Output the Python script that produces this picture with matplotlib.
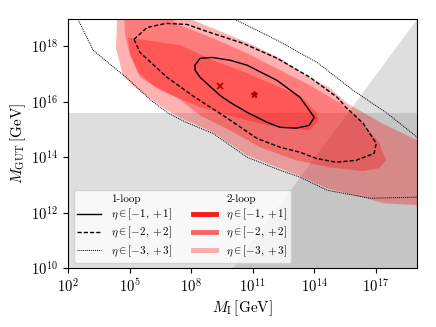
import numpy as np
import matplotlib
matplotlib.use("Agg")
import matplotlib.pyplot as plt
from matplotlib.lines import Line2D

plt.rcParams["font.family"] = "serif"
plt.rcParams["font.serif"] = ["cmr10"]
plt.rcParams["mathtext.fontset"] = "cm"
plt.rcParams["axes.formatter.use_mathtext"] = True

# contours, log10(M_I) / log10(M_GUT)
# 1-loop lines
loop1_eta1_x = [8.19, 8.44, 9.02, 9.90, 10.73, 12.19, 13.31, 14.0, 13.75, 13.12, 12.34, 11.70, 10.73, 9.90, 9.41, 8.44, 8.19, 8.19]
loop1_eta1_y = [17.32, 17.57, 17.60, 17.50, 17.32, 16.77, 16.16, 15.44, 15.15, 15.05, 15.08, 15.26, 15.62, 15.98, 16.23, 16.88, 17.14, 17.32]
loop1_eta2_x = [5.22, 5.51, 6.83, 8.19, 9.56, 11.21, 12.34, 13.31, 14.09, 15.07, 16.04, 16.92, 17.02, 16.38, 15.55, 15.12, 13.8, 12.19, 10.53, 8.92, 7.8, 6.78, 5.85, 5.22]
loop1_eta2_y = [18.25, 17.78, 16.88, 16.16, 15.51, 14.68, 14.36, 14.18, 13.96, 13.82, 13.89, 14.14, 14.50, 15.23, 15.80, 16.16, 16.88, 17.57, 18.11, 18.50, 18.79, 18.83, 18.68, 18.25]
loop1_eta3_x = [19.5, 19.0, 16.72, 14.63, 13.31, 12.34, 10.73, 9.07, 7.75, 6.88, 6.05, 4.88, 3.22, 2.49, 2.0, 7.6, 10.14, 12.19, 14.14, 15.9, 17.55, 19.02, 19.5, 19.5]
loop1_eta3_y = [12.5, 12.56, 12.52, 12.81, 13.28, 13.53, 14.0, 14.86, 15.26, 15.59, 16.05, 16.85, 17.86, 18.97, 19.8, 19.6, 18.97, 18.22, 17.42, 16.41, 15.59, 14.72, 14.3, 12.5]

# 2-loop filled regions
loop2_eta1_x = [4.93, 7.46, 9.07, 10.73, 12.34, 13.31, 14.14, 14.19, 13.80, 12.19, 10.73, 8.44, 6.83, 5.51, 5.02]
loop2_eta1_y = [18.32, 18.04, 17.50, 17.03, 16.52, 16.23, 15.59, 15.33, 14.97, 15.08, 15.33, 15.80, 16.31, 16.88, 17.75]
loop2_eta2_x = [4.73, 6.39, 7.46, 9.07, 10.73, 12.34, 13.80, 15.26, 16.24, 17.16, 17.50, 17.16, 16.38, 14.73, 13.12, 11.36, 9.90, 8.44, 7.36, 6.24, 5.41, 5.02, 4.78]
loop2_eta2_y = [19.30, 19.30, 18.76, 18.29, 17.75, 17.14, 16.59, 15.95, 15.33, 14.54, 13.89, 13.60, 13.50, 13.64, 13.89, 14.36, 14.97, 15.51, 16.13, 16.52, 17.06, 17.68, 18.40]
loop2_eta3_x = [4.44, 6.88, 8.09, 9.07, 10.73, 12.34, 13.80, 14.73, 15.60, 17.21, 19.02, 19.41, 19.41, 19.02, 17.36, 16.72, 14.63, 13.31, 12.34, 10.73, 9.07, 7.75, 6.88, 6.05, 5.27, 4.68, 4.34, 4.39]
loop2_eta3_y = [19.30, 19.30, 18.94, 18.65, 18.14, 17.57, 16.85, 16.52, 15.95, 15.26, 14.61, 14.47, 12.27, 12.27, 12.34, 12.49, 12.88, 13.32, 13.60, 14.07, 14.90, 15.33, 15.66, 16.09, 16.52, 16.95, 17.93, 18.97]

# best-fit points
bf1_loop = (9.41, 16.56)
bf2_loop = (11.07, 16.27)

# proton decay bound on M_GUT, and M_I = M_GUT line
gut_bound = 15.6
xlim_log = (2, 19)
ylim_log = (10, 19)

eta_labels = [r"$\eta \in [-1,+1]$", r"$\eta \in [-2,+2]$", r"$\eta \in [-3,+3]$"]

fig = plt.figure(figsize=(4.36, 3.27), dpi=100)
ax = fig.add_axes([0.156, 0.180, 0.800, 0.763])
ax.set_xscale("log")
ax.set_yscale("log")

# excluded regions
ax.fill_between([10.0**xlim_log[0], 10.0**xlim_log[1]], 10.0**ylim_log[0], 10.0**gut_bound,
                color="gray", alpha=0.26, lw=0, zorder=1)
diag = np.array([ylim_log[0], xlim_log[1]], dtype=float)
ax.fill_between(10.0**diag, 10.0**ylim_log[0], 10.0**diag, color="gray", alpha=0.26, lw=0, zorder=1)

# 2-loop filled regions (stacked alpha)
for xs, ys in [(loop2_eta3_x, loop2_eta3_y), (loop2_eta2_x, loop2_eta2_y), (loop2_eta1_x, loop2_eta1_y)]:
    ax.fill(10.0**np.array(xs), 10.0**np.array(ys), color="red", alpha=0.3, lw=0, zorder=2)

# 1-loop lines
ax.plot(10.0**np.array(loop1_eta1_x), 10.0**np.array(loop1_eta1_y), color="k", lw=1.0, ls="-", zorder=3)
ax.plot(10.0**np.array(loop1_eta2_x), 10.0**np.array(loop1_eta2_y), color="k", lw=1.0, ls=(0, (3, 1.5)), zorder=3)
ax.plot(10.0**np.array(loop1_eta3_x), 10.0**np.array(loop1_eta3_y), color="k", lw=0.7, ls=(0, (1, 1)), zorder=3)

ax.plot(10.0**bf1_loop[0], 10.0**bf1_loop[1], marker="x", color="#b00000", ms=5, mew=1.2, ls="none", zorder=4)
ax.plot(10.0**bf2_loop[0], 10.0**bf2_loop[1], marker="*", color="#b00000", ms=5, ls="none", zorder=4)

ax.set_xlim(10.0**xlim_log[0], 10.0**xlim_log[1])
ax.set_ylim(10.0**ylim_log[0], 10.0**ylim_log[1])
ax.set_xticks([10.0**k for k in range(2, 18, 3)])
ax.set_yticks([10.0**k for k in range(10, 19, 2)])
ax.minorticks_off()
ax.tick_params(labelsize=10.5, length=3.5)
ax.set_xlabel(r"$M_{\rm I}\,$[GeV]", fontsize=11, labelpad=2)
ax.set_ylabel(r"$M_{\rm GUT}\,$[GeV]", fontsize=11, labelpad=2)

# legend: 1-loop lines | 2-loop fills
blank = Line2D([], [], color="none")
handles = [blank,
           Line2D([], [], color="k", lw=1.0, ls="-"),
           Line2D([], [], color="k", lw=1.0, ls=(0, (3, 1.5))),
           Line2D([], [], color="k", lw=0.7, ls=(0, (1, 1))),
           blank,
           Line2D([], [], color="red", alpha=0.9, lw=3.5),
           Line2D([], [], color="red", alpha=0.6, lw=3.5),
           Line2D([], [], color="red", alpha=0.3, lw=3.5)]
labels = ["1-loop"] + eta_labels + ["2-loop"] + eta_labels
ax.legend(handles, labels, ncol=2, loc="lower left", fontsize=8, handlelength=2.1,
          handletextpad=0.9, columnspacing=1.9, labelspacing=0.25, borderpad=0.35,
          borderaxespad=0.5)

fig.savefig("out.png", dpi=100)
